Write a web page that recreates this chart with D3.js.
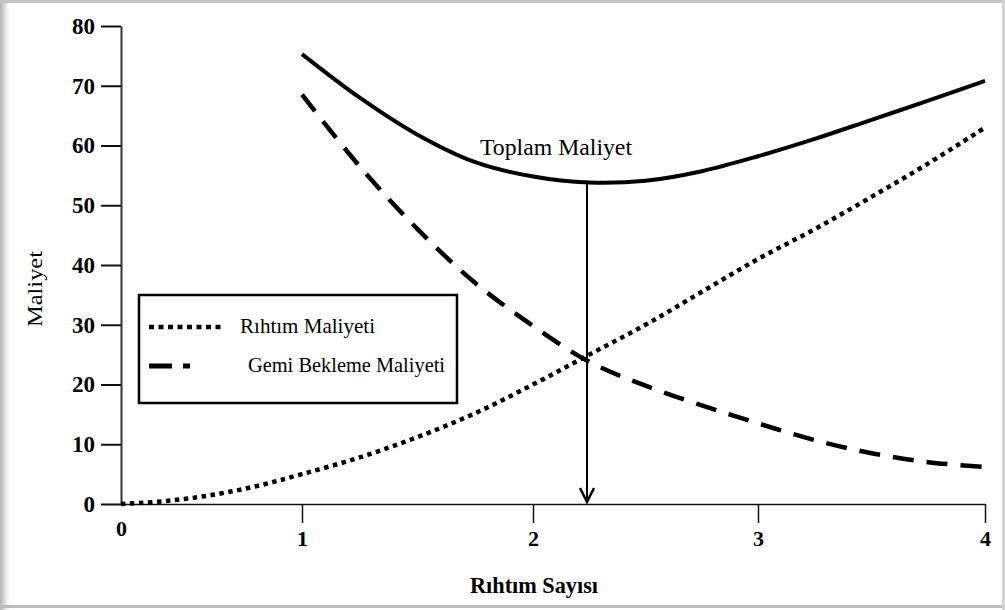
<!DOCTYPE html>
<html>
<head>
<meta charset="utf-8">
<script src="https://cdn.jsdelivr.net/npm/d3@7"></script>
<style>
  body { margin: 0; background: #fff; }
  svg { display: block; }
</style>
</head>
<body>
<div id="chart"></div>
<script>
// Data
const xTicks = [0, 1, 2, 3, 4];
const yTicks = [0, 10, 20, 30, 40, 50, 60, 70, 80];

// Toplam Maliyet (solid)
const toplamX = [1, 1.25, 1.5, 1.75, 2, 2.25, 2.5, 2.75, 3, 3.25, 3.5, 3.75, 4];
const toplamY = [75.3, 68.0, 61.8, 57.2, 54.8, 53.8, 54.1, 55.7, 58.2, 61.1, 64.3, 67.5, 70.8];

// Gemi Bekleme Maliyeti (dashed)
const gemiX = [1, 1.25, 1.5, 1.75, 2, 2.25, 2.5, 2.75, 3, 3.25, 3.5, 3.75, 4];
const gemiY = [68.5, 56.5, 46.0, 37.0, 29.8, 23.8, 19.8, 16.5, 13.5, 10.7, 8.5, 7.0, 6.2];

// Rıhtım Maliyeti (dotted)
const rihtimX = [0, 0.25, 0.5, 0.75, 1, 1.25, 1.5, 1.75, 2, 2.25, 2.5, 2.75, 3, 3.25, 3.5, 3.75, 4];
const rihtimY = [0, 0.5, 1.5, 3.0, 5.0, 7.8, 11.2, 15.2, 20.0, 25.0, 30.0, 35.5, 41.0, 46.0, 51.4, 57.0, 63.0];

// Optimum (arrow)
const optimumX = 2.24;
const optimumY = 53.8;

const W = 1005, H = 610;
const margin = { top: 26, right: 20, bottom: 106, left: 121 };
const width = W - margin.left - margin.right;
const height = H - margin.top - margin.bottom;
const serif = "Liberation Serif, Times New Roman, serif";

const root = d3.select("#chart").append("svg")
    .attr("width", W)
    .attr("height", H);

// frame with a soft shadow on the left
const defs = root.append("defs");
const grad = defs.append("linearGradient").attr("id", "shadow").attr("x1", 0).attr("x2", 1);
grad.append("stop").attr("offset", 0).attr("stop-color", "#b4b4b4");
grad.append("stop").attr("offset", 1).attr("stop-color", "#ffffff");
root.append("rect").attr("x", 0).attr("y", 0).attr("width", 9).attr("height", H).attr("fill", "url(#shadow)");
root.append("rect").attr("x", 0).attr("y", 0).attr("width", W).attr("height", 3).attr("fill", "#c4c4c4");
root.append("rect").attr("x", 0).attr("y", 605).attr("width", W).attr("height", 3).attr("fill", "#bdbdbd");
root.append("rect").attr("x", 1002).attr("y", 0).attr("width", 3).attr("height", H).attr("fill", "#d4d4d4");

const svg = root.append("g")
    .attr("transform", "translate(" + margin.left + "," + margin.top + ")");

// Scales (the x axis of the original is not evenly spaced between 0 and 1)
const x = d3.scaleLinear()
    .domain(xTicks)
    .range([0, 181, 412, 637, 864]);

const y = d3.scaleLinear()
    .domain([0, 80])
    .range([height, 0]);

// Y axis
const yAxis = svg.append("g")
    .call(d3.axisLeft(y).tickValues(yTicks).tickSize(20).tickSizeOuter(0).tickPadding(6));
yAxis.select(".domain").attr("stroke", "#333").attr("stroke-width", 2);
yAxis.selectAll(".tick line").attr("stroke", "#111").attr("stroke-width", 2);
yAxis.selectAll(".tick text")
    .style("font-family", serif)
    .style("font-size", "23px")
    .style("font-weight", "bold")
    .attr("fill", "#000");

// X axis
const xAxis = svg.append("g")
    .attr("transform", "translate(0," + height + ")")
    .call(d3.axisBottom(x).tickValues(xTicks).tickFormat(d3.format("d"))
        .tickSize(19).tickSizeOuter(0).tickPadding(7));
xAxis.select(".domain").attr("stroke", "#111").attr("stroke-width", 1.5);
xAxis.selectAll(".tick line").attr("stroke", "#111").attr("stroke-width", 1.5)
    .filter(d => d === 0).remove();
xAxis.selectAll(".tick text")
    .style("font-family", serif)
    .style("font-size", "22px")
    .style("font-weight", "bold")
    .attr("fill", "#000");
xAxis.selectAll(".tick text").filter(d => d === 0).attr("y", 16);

// Axis titles
svg.append("text")
    .attr("transform", "translate(" + (42 - margin.left) + "," + (height / 2 + 24) + ") rotate(-90)")
    .attr("text-anchor", "middle")
    .attr("textLength", 76)
    .attr("lengthAdjust", "spacingAndGlyphs")
    .style("font-family", serif)
    .style("font-size", "22px")
    .text("Maliyet");

svg.append("text")
    .attr("x", 470 - margin.left)
    .attr("y", 593 - margin.top)
    .attr("textLength", 128)
    .attr("lengthAdjust", "spacingAndGlyphs")
    .style("font-family", serif)
    .style("font-size", "23px")
    .style("font-weight", "bold")
    .text("Rıhtım Sayısı");

// Lines
const line = d3.line()
    .x(d => x(d[0]))
    .y(d => y(d[1]))
    .curve(d3.curveCatmullRom);

svg.append("path")
    .datum(d3.zip(rihtimX, rihtimY))
    .attr("d", line)
    .attr("fill", "none")
    .attr("stroke", "#000")
    .attr("stroke-width", 4.5)
    .attr("stroke-dasharray", "4.5,4.5");

svg.append("path")
    .datum(d3.zip(gemiX, gemiY))
    .attr("d", line)
    .attr("fill", "none")
    .attr("stroke", "#000")
    .attr("stroke-width", 4.5)
    .attr("stroke-dasharray", "21,13");

svg.append("path")
    .datum(d3.zip(toplamX, toplamY))
    .attr("d", line)
    .attr("fill", "none")
    .attr("stroke", "#000")
    .attr("stroke-width", 4);

svg.append("text")
    .attr("x", 480 - margin.left)
    .attr("y", 155 - margin.top)
    .attr("textLength", 152)
    .attr("lengthAdjust", "spacingAndGlyphs")
    .style("font-family", serif)
    .style("font-size", "23px")
    .text("Toplam Maliyet");

// Arrow from the minimum of the total cost down to the x axis
const ax = x(optimumX);
svg.append("line")
    .attr("x1", ax).attr("x2", ax)
    .attr("y1", y(optimumY)).attr("y2", height - 2)
    .attr("stroke", "#000")
    .attr("stroke-width", 2);
svg.append("path")
    .attr("d", `M${ax - 7},${height - 16} L${ax},${height - 2} L${ax + 7},${height - 16}`)
    .attr("fill", "none")
    .attr("stroke", "#000")
    .attr("stroke-width", 2.5);

// Legend
const legend = svg.append("g")
    .attr("transform", "translate(" + (139 - margin.left) + "," + (295 - margin.top) + ")");

legend.append("rect")
    .attr("x", 0).attr("y", 0)
    .attr("width", 318).attr("height", 108)
    .attr("fill", "#fff")
    .attr("stroke", "#000")
    .attr("stroke-width", 2.5);

legend.append("line")
    .attr("x1", 10).attr("x2", 85)
    .attr("y1", 32).attr("y2", 32)
    .attr("stroke", "#000")
    .attr("stroke-width", 4.5)
    .attr("stroke-dasharray", "5,4.5");

legend.append("line")
    .attr("x1", 10).attr("x2", 85)
    .attr("y1", 71).attr("y2", 71)
    .attr("stroke", "#000")
    .attr("stroke-width", 5)
    .attr("stroke-dasharray", "23,11,7,100");

legend.append("text")
    .attr("x", 101).attr("y", 38)
    .attr("textLength", 135)
    .attr("lengthAdjust", "spacingAndGlyphs")
    .style("font-family", serif)
    .style("font-size", "22px")
    .text("Rıhtım Maliyeti");

legend.append("text")
    .attr("x", 109).attr("y", 77)
    .attr("textLength", 197)
    .attr("lengthAdjust", "spacingAndGlyphs")
    .style("font-family", serif)
    .style("font-size", "22px")
    .text("Gemi Bekleme Maliyeti");
</script>
</body>
</html>
